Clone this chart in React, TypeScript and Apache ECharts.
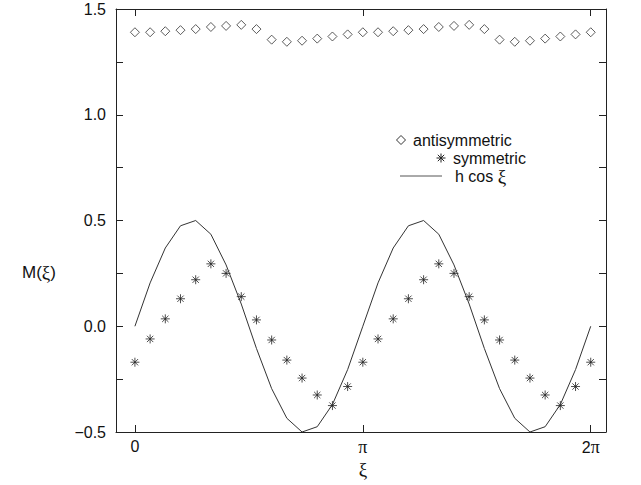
import React, { useEffect, useRef } from "react";
import * as echarts from "echarts";

// sample positions, in units of π (ξ/π)
const xiOverPi = Array.from({ length: 31 }, (_, k) => k / 15);

const antisymmetric = [
  1.39, 1.39, 1.395, 1.4, 1.405, 1.415, 1.42, 1.425, 1.405, 1.355, 1.345, 1.35, 1.36, 1.37, 1.38,
  1.39, 1.39, 1.395, 1.4, 1.405, 1.415, 1.42, 1.425, 1.405, 1.355, 1.345, 1.35, 1.36, 1.37, 1.38, 1.39,
];
const symmetric = [
  -0.17, -0.06, 0.035, 0.13, 0.22, 0.295, 0.25, 0.14, 0.03, -0.065, -0.16, -0.245, -0.325, -0.375, -0.285,
  -0.17, -0.06, 0.035, 0.13, 0.22, 0.295, 0.25, 0.14, 0.03, -0.065, -0.16, -0.245, -0.325, -0.375, -0.285, -0.17,
];
const hcos = [
  0, 0.205, 0.37, 0.475, 0.5, 0.435, 0.29, 0.105, -0.105, -0.295, -0.435, -0.5, -0.475, -0.37, -0.205,
  0, 0.205, 0.37, 0.475, 0.5, 0.435, 0.29, 0.105, -0.105, -0.295, -0.435, -0.5, -0.475, -0.37, -0.205, 0,
];
const xTicks = [0, 1, 2];
const xTickLabels = ["0", "π", "2π"];
const legendNames = ["antisymmetric", "symmetric", "h cos ξ"];

const STAR = "path://M5,0L5,10M0,5L10,5M1.5,1.5L8.5,8.5M1.5,8.5L8.5,1.5";
const SANS = "'Liberation Sans', Arial, sans-serif";
const SERIF = "'Liberation Serif', 'Times New Roman', serif";
const INK = "#222";

export default function App() {
  const ref = useRef<HTMLDivElement>(null);
  useEffect(() => {
    if (!ref.current) return;
    const chart = echarts.init(ref.current, undefined, { renderer: "svg" });
    const pair = (ys: number[]) => xiOverPi.map((x, i) => [x, ys[i]]);
    const yLabel = (v: number) => {
      const h = v * 2;
      if (Math.abs(h - Math.round(h)) > 1e-6) return "";
      return (v < 0 ? "\u2212" : "") + Math.abs(v).toFixed(1);
    };
    const xAxisBase = {
      type: "value",
      min: -0.083,
      max: 2.067,
      axisLine: { show: true, onZero: false, lineStyle: { color: INK, width: 1 } },
      axisTick: { show: true, inside: true, length: 7, customValues: xTicks, lineStyle: { color: INK } },
      splitLine: { show: false },
    };
    const yAxisBase = {
      type: "value",
      min: -0.5,
      max: 1.5,
      interval: 0.25,
      axisLine: { show: true, onZero: false, lineStyle: { color: INK, width: 1 } },
      axisTick: { show: true, inside: true, length: 7, lineStyle: { color: INK } },
      splitLine: { show: false },
    };
    const starLines = (cx: number, cy: number) =>
      [
        [0, -4.5, 0, 4.5],
        [-4.5, 0, 4.5, 0],
        [-3.2, -3.2, 3.2, 3.2],
        [-3.2, 3.2, 3.2, -3.2],
      ].map(([a, b, c, d]) => ({
        type: "line",
        shape: { x1: cx + a, y1: cy + b, x2: cx + c, y2: cy + d },
        style: { stroke: INK, lineWidth: 1 },
      }));
    chart.setOption({
      animation: false,
      backgroundColor: "#fff",
      grid: { left: 116, right: 35, top: 9, bottom: 53, containLabel: false },
      xAxis: [
        {
          ...xAxisBase,
          position: "bottom",
          axisLabel: {
            show: true,
            customValues: xTicks,
            margin: 6,
            formatter: (v: number) => {
              const idx = xTicks.findIndex((t) => Math.abs(t - v) < 1e-6);
              const s = idx >= 0 ? xTickLabels[idx] : "";
              if (s === "0") return "{s|0}";
              return s.replace(/(\d*)(π)/, (_m, d, p) => (d ? `{s|${d}}` : "") + `{g|${p}}`);
            },
            rich: {
              s: { fontFamily: SANS, fontSize: 16, color: "#111" },
              g: { fontFamily: SERIF, fontSize: 18, color: "#111" },
            },
          },
        },
        { ...xAxisBase, position: "top", axisLabel: { show: false } },
      ],
      yAxis: [
        {
          ...yAxisBase,
          position: "left",
          axisLabel: {
            show: true,
            margin: 10,
            formatter: yLabel,
            fontFamily: SANS,
            fontSize: 16,
            color: "#111",
          },
        },
        { ...yAxisBase, position: "right", axisLabel: { show: false } },
      ],
      series: [
        {
          name: legendNames[0],
          type: "scatter",
          data: pair(antisymmetric),
          symbol: "diamond",
          symbolSize: 9,
          itemStyle: { color: "#fff", borderColor: "#333", borderWidth: 1 },
        },
        {
          name: legendNames[1],
          type: "scatter",
          data: pair(symmetric),
          symbol: STAR,
          symbolSize: 9,
          itemStyle: { color: "#000", borderColor: "#222", borderWidth: 1 },
        },
        {
          name: legendNames[2],
          type: "line",
          data: pair(hcos),
          showSymbol: false,
          symbol: "none",
          lineStyle: { color: "#333", width: 1 },
        },
      ],
      graphic: [
        {
          type: "polygon",
          shape: { points: [[401, 135.5], [405.5, 140], [401, 144.5], [396.5, 140]] },
          style: { fill: "#fff", stroke: "#333", lineWidth: 1 },
        },
        {
          type: "text",
          x: 413,
          y: 140,
          style: { text: legendNames[0], font: `16px ${SANS}`, fill: "#111", verticalAlign: "middle" },
        },
        ...starLines(441, 158),
        {
          type: "text",
          x: 453,
          y: 158,
          style: { text: legendNames[1], font: `16px ${SANS}`, fill: "#111", verticalAlign: "middle" },
        },
        { type: "line", shape: { x1: 400, y1: 176, x2: 442, y2: 176 }, style: { stroke: "#555", lineWidth: 1 } },
        {
          type: "text",
          x: 455,
          y: 176,
          style: {
            text: "{s|h cos }{g|ξ}",
            verticalAlign: "middle",
            rich: {
              s: { fontFamily: SANS, fontSize: 16, fill: "#111" },
              g: { fontFamily: SERIF, fontSize: 19, fill: "#111" },
            },
          },
        },
        {
          type: "text",
          x: 22,
          y: 272,
          style: {
            text: "{s|M(}{g|ξ}{s|)}",
            verticalAlign: "middle",
            rich: {
              s: { fontFamily: SANS, fontSize: 17, fill: "#111" },
              g: { fontFamily: SERIF, fontSize: 19, fill: "#111" },
            },
          },
        },
        {
          type: "text",
          x: 363,
          y: 469,
          style: {
            text: "ξ",
            font: `19px ${SERIF}`,
            fill: "#111",
            align: "center",
            verticalAlign: "middle",
          },
        },
      ],
    });
    return () => chart.dispose();
  }, []);
  return (
    <div
      ref={ref}
      style={{ position: "absolute", left: 0, top: 0, width: 641, height: 485 }}
    />
  );
}
